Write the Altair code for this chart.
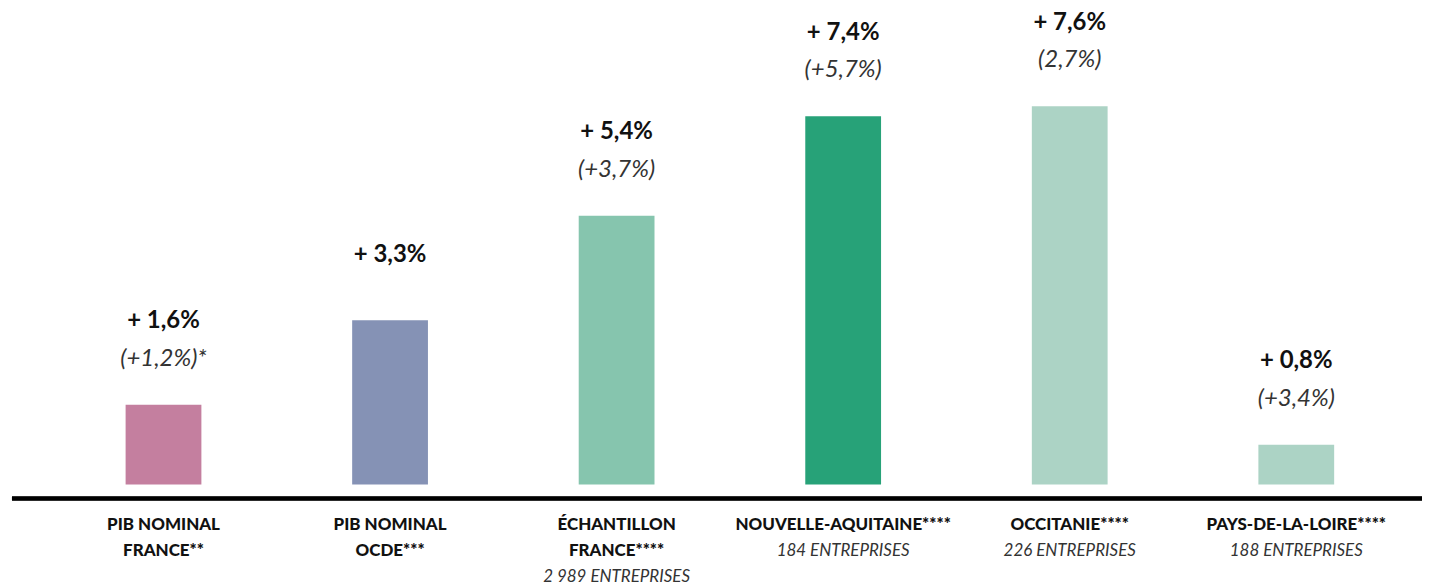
import altair as alt
import pandas as pd

categories = ["PIB NOMINAL\nFRANCE**", "PIB NOMINAL\nOCDE***", "ÉCHANTILLON\nFRANCE****",
              "NOUVELLE-AQUITAINE****", "OCCITANIE****", "PAYS-DE-LA-LOIRE****"]
sublabels = ["", "", "2 989 ENTREPRISES", "184 ENTREPRISES", "226 ENTREPRISES", "188 ENTREPRISES"]
values = [1.6, 3.3, 5.4, 7.4, 7.6, 0.8]
value_labels = ["+ 1,6%", "+ 3,3%", "+ 5,4%", "+ 7,4%", "+ 7,6%", "+ 0,8%"]
paren_labels = ["(+1,2%)*", "", "(+3,7%)", "(+5,7%)", "(2,7%)", "(+3,4%)"]
colors = ["#c47f9f", "#8592b5", "#86c5ae", "#27a278", "#acd3c5", "#acd3c5"]

FONT = "Lato"
W, H = 1414, 477
LH = 26

df = pd.DataFrame({
    "cat": categories,
    "value": values,
    "vlabel": value_labels,
    "plabel": paren_labels,
    "sub": sublabels,
    "color": colors,
    "bold_lines": [c.split("\n") for c in categories],
    "nbold": [c.count("\n") + 1 for c in categories],
})
df["has_p"] = df["plabel"] != ""

xenc = alt.X("cat:N", sort=categories, axis=None,
             scale=alt.Scale(paddingInner=0.6655, paddingOuter=0.4446, align=0.564))
yscale = alt.Scale(domain=[0, 9.56], nice=False, zero=True)

base = alt.Chart(df)

bars = base.mark_bar().encode(
    x=xenc,
    y=alt.Y("value:Q", scale=yscale, axis=None),
    color=alt.Color("color:N", scale=None),
)

vlab_p = base.transform_filter("datum.has_p").mark_text(
    font=FONT, fontSize=24, fontWeight="bold", color="#111111", baseline="alphabetic", dy=-77
).encode(x=xenc, y=alt.Y("value:Q", scale=yscale), text="vlabel:N")

vlab_np = base.transform_filter("!datum.has_p").mark_text(
    font=FONT, fontSize=24, fontWeight="bold", color="#111111", baseline="alphabetic", dy=-58
).encode(x=xenc, y=alt.Y("value:Q", scale=yscale), text="vlabel:N")

plab = base.transform_filter("datum.has_p").mark_text(
    font=FONT, fontSize=24, fontStyle="italic", color="#333333", baseline="alphabetic", dy=-39
).encode(x=xenc, y=alt.Y("value:Q", scale=yscale), text="plabel:N")

axis_line = base.mark_rule(color="#000000", strokeWidth=3.5).encode(
    x=alt.value(0), x2=alt.value(W), y=alt.value(H + 14)
)

cat_lab = base.mark_text(
    font=FONT, fontSize=17, fontWeight=900, color="#111111", baseline="top", lineHeight=LH
).encode(x=xenc, y=alt.value(H + 33), text="bold_lines")

sub_style = dict(font=FONT, fontSize=17, fontStyle="italic", color="#333333", baseline="top")
sub_lab1 = base.transform_filter("datum.nbold == 1 && datum.sub != ''").mark_text(**sub_style).encode(
    x=xenc, y=alt.value(H + 33 + LH), text="sub:N")
sub_lab2 = base.transform_filter("datum.nbold == 2 && datum.sub != ''").mark_text(**sub_style).encode(
    x=xenc, y=alt.value(H + 33 + 2 * LH), text="sub:N")

chart = alt.layer(bars, vlab_p, vlab_np, plab, axis_line, cat_lab, sub_lab1, sub_lab2).properties(
    width=W, height=H,
    autosize=alt.AutoSizeParams(type="none"),
    padding={"left": 4, "top": 0, "right": 0, "bottom": 100},
).configure_view(stroke=None)

chart.save("out.html", embed_options={"renderer": "svg", "actions": False})
